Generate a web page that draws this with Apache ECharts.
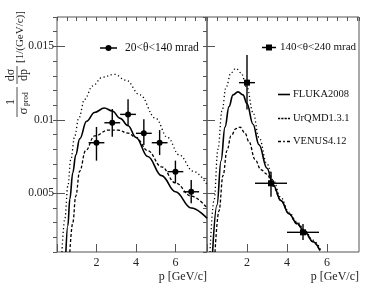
<!DOCTYPE html>
<html><head><meta charset="utf-8">
<script src="https://cdn.jsdelivr.net/npm/echarts@6/dist/echarts.min.js"></script>
<style>html,body{margin:0;padding:0;background:#fff}#c{width:374px;height:286px}</style>
</head><body><div id="c"></div>
<script>
// ---- data: left panel (20<theta<140 mrad) ----
const leftP     = [2.0, 2.8, 3.6, 4.4, 5.2, 6.0, 6.8];
const leftPLow  = [1.6, 2.4, 3.2, 4.0, 4.8, 5.6, 6.4];
const leftPHigh = [2.4, 3.2, 4.0, 4.8, 5.6, 6.4, 7.2];
const leftY     = [0.00844, 0.0098, 0.01037, 0.00908, 0.00844, 0.00647, 0.0051];
const leftYLow  = [0.00722, 0.00884, 0.00958, 0.00828, 0.0076, 0.00568, 0.00432];
const leftYHigh = [0.00951, 0.01073, 0.0114, 0.01003, 0.0093, 0.00722, 0.0059];
// ---- data: right panel (140<theta<240 mrad) ----
const rightP     = [2.0, 3.2, 4.8];
const rightPLow  = [1.6, 2.4, 4.0];
const rightPHigh = [2.4, 4.0, 5.6];
const rightY     = [0.01253, 0.00568, 0.00234];
const rightYLow  = [0.0107, 0.00476, 0.00182];
const rightYHigh = [0.01441, 0.00647, 0.00291];
// ---- model curves ----
const flukaLeftP = [0.45, 0.55, 0.65, 0.8, 0.95, 1.15, 1.5, 1.9, 2.4, 2.8, 3.2, 3.6, 4.0, 4.6, 5.3, 6.0, 6.8, 7.6];
const flukaLeftY = [0.001, 0.0028, 0.0046, 0.0064, 0.0076, 0.0087, 0.0099, 0.0105, 0.0108, 0.0106, 0.0101, 0.0096, 0.0088, 0.0075, 0.0062, 0.0051, 0.0040, 0.0033];
const urqmdLeftP = [0.65, 0.8, 0.95, 1.15, 1.45, 1.9, 2.6, 3.1, 3.6, 4.0, 4.6, 5.3, 6.0, 6.8, 7.6];
const urqmdLeftY = [0.001, 0.003, 0.0048, 0.0065, 0.0079, 0.0089, 0.0093, 0.0093, 0.0091, 0.0088, 0.0079, 0.0068, 0.0057, 0.0048, 0.0040];
const venusLeftP = [0.25, 0.4, 0.55, 0.7, 0.9, 1.1, 1.4, 1.8, 2.3, 2.9, 3.5, 4.2, 5.0, 5.6, 6.2, 6.9, 7.6];
const venusLeftY = [0.001, 0.0033, 0.0055, 0.0073, 0.0089, 0.0101, 0.0114, 0.0123, 0.0129, 0.0131, 0.0127, 0.0117, 0.0101, 0.0088, 0.0076, 0.0065, 0.0056];
const flukaRightP = [0.28, 0.5, 0.7, 0.9, 1.1, 1.3, 1.55, 1.8, 2.0, 2.3, 2.6, 3.0, 3.3, 3.7, 4.1, 4.5, 4.9, 5.3, 5.65];
const flukaRightY = [0.001, 0.0042, 0.0072, 0.0095, 0.0109, 0.0117, 0.0119, 0.0117, 0.0111, 0.0097, 0.0083, 0.0067, 0.0056, 0.0045, 0.0036, 0.00295, 0.00235, 0.0017, 0.0011];
const urqmdRightP = [0.4, 0.6, 0.8, 1.0, 1.2, 1.45, 1.65, 1.9, 2.1, 2.4, 2.7, 3.0, 3.3, 3.7, 4.1, 4.5, 4.9, 5.3, 5.6];
const urqmdRightY = [0.001, 0.0038, 0.0062, 0.0079, 0.0089, 0.0094, 0.0095, 0.0091, 0.0085, 0.0073, 0.0066, 0.0063, 0.0055, 0.0045, 0.0036, 0.0029, 0.0023, 0.0017, 0.0012];
const venusRightP = [0.15, 0.35, 0.55, 0.75, 0.95, 1.2, 1.45, 1.7, 2.0, 2.3, 2.6, 3.0, 3.3, 3.7, 4.1, 4.5, 4.9, 5.3, 5.7];
const venusRightY = [0.001, 0.0045, 0.0080, 0.0106, 0.0122, 0.0132, 0.0135, 0.0132, 0.0122, 0.0105, 0.0088, 0.0070, 0.0059, 0.0047, 0.0037, 0.00305, 0.00245, 0.0018, 0.0011];
// ---- tick labels ----
const yTickValues = [0.005, 0.01, 0.015];
const xTickLabels = ['2', '4', '6'];
const leftLabel = '20<θ<140 mrad';
const rightLabel = '140<θ<240 mrad';
const modelNames = ['FLUKA2008', 'UrQMD1.3.1', 'VENUS4.12'];

const FONT = 'Liberation Serif';
const AX = '#555';
const zip = (a, b) => a.map((v, i) => [v, b[i]]);
const errData = (p, pl, ph, y, yl, yh) => p.map((v, i) => [v, y[i], pl[i], ph[i], yl[i], yh[i]]);

function errRender(params, api) {
  const x = api.value(0), y = api.value(1);
  const a = api.coord([api.value(2), y]), b = api.coord([api.value(3), y]);
  const c = api.coord([x, api.value(4)]), d = api.coord([x, api.value(5)]);
  const st = {stroke: '#000', lineWidth: 1.4};
  return {type: 'group', children: [
    {type: 'line', shape: {x1: a[0], y1: a[1], x2: b[0], y2: b[1]}, style: st},
    {type: 'line', shape: {x1: c[0], y1: c[1], x2: d[0], y2: d[1]}, style: st}
  ]};
}

function xMajor(gi) {
  return {gridIndex: gi, type: 'value', min: 0, max: 7.6, interval: 2,
    axisLine: {show: false}, splitLine: {show: false},
    axisTick: {inside: true, length: 8, lineStyle: {color: AX}},
    axisLabel: {margin: 5, fontFamily: FONT, fontSize: 12, color: '#222', showMaxLabel: false,
      formatter: v => { const i = [2, 4, 6].indexOf(v); return i >= 0 ? xTickLabels[i] : ''; }},
    name: 'p [GeV/c]', nameLocation: 'end', nameGap: 0,
    nameTextStyle: {fontFamily: FONT, fontSize: 12, color: '#222', align: 'right', verticalAlign: 'top', padding: [19, 0, 0, 0]}
  };
}
function xMinor(gi) {
  return {gridIndex: gi, type: 'value', min: 0, max: 7.6, interval: 0.5,
    axisLine: {show: false}, splitLine: {show: false}, axisLabel: {show: false},
    axisTick: {inside: true, length: 4, lineStyle: {color: AX}}};
}
function yMajor(gi, labels) {
  return {gridIndex: gi, type: 'value', min: 0.001, max: 0.017, interval: 0.001,
    axisLine: {show: false}, splitLine: {show: false},
    axisTick: {inside: true, length: 8, customValues: yTickValues, lineStyle: {color: AX}},
    axisLabel: {show: labels, customValues: yTickValues, margin: 3, fontFamily: FONT, fontSize: 11.5, color: '#222',
      formatter: v => String(+v.toFixed(3))}};
}
function yMinor(gi) {
  return {gridIndex: gi, type: 'value', min: 0.001, max: 0.017, interval: 0.001,
    axisLine: {show: false}, splitLine: {show: false}, axisLabel: {show: false},
    axisTick: {inside: true, length: 4, lineStyle: {color: AX}}};
}
function curve(name, xi, yi, p, y, type) {
  return {type: 'line', name, xAxisIndex: xi, yAxisIndex: yi, data: zip(p, y),
    showSymbol: false, symbol: 'none', smooth: 0.4, smoothMonotone: 'x', z: 3,
    itemStyle: {color: '#000'},
    lineStyle: {color: '#000', width: type === 'solid' ? 1.6 : 1.3, type}};
}
const dashU = [3, 2];
const dashV = [1.2, 2.6];

const iconLeft  = 'path://M0,2.3h5.6v1.4h-5.6zM11.4,2.3h5.6v1.4h-5.6zM8.5,0a3,3 0 1,1 -0.01,0z';
const iconRight = 'path://M0,2.3h4v1.4h-4zM10,2.3h4v1.4h-4zM4,0h6v6h-6z';
const iconFluka = 'path://M0,0h12v1.6h-12z';
const iconUrqmd = 'path://M0,0h2.2v1.3h-2.2zM3.3,0h2.2v1.3h-2.2zM6.6,0h2.2v1.3h-2.2zM9.9,0h2.1v1.3h-2.1z';
const iconVenus = 'path://M0,0h3v1.3h-3zM5.2,0h1.6v1.3h-1.6zM9,0h3v1.3h-3z';
const legTxt = {fontFamily: FONT, fontSize: 11, color: '#111'};
const modelLegend = (name, icon, top) => ({data: [{name, icon}], left: 278, top, itemWidth: 12, itemHeight: 2,
  padding: 0, textStyle: Object.assign({padding: [0, 0, 0, -2]}, legTxt, {fontSize: 10.5})});

const chart = echarts.init(document.getElementById('c'), null, {renderer: 'canvas'});
chart.setOption({
  animation: false,
  backgroundColor: '#fff',
  grid: [
    {left: 57, right: 167, top: 17, bottom: 34, show: true, borderColor: AX, borderWidth: 1, backgroundColor: 'transparent'},
    {left: 207, right: 15, top: 17, bottom: 34, show: true, borderColor: AX, borderWidth: 1, backgroundColor: 'transparent'}
  ],
  xAxis: [xMajor(0), xMinor(0), xMajor(1), xMinor(1)],
  yAxis: [yMajor(0, true), yMinor(0), yMajor(1, false), yMinor(1)],
  legend: [
    {data: [{name: leftLabel, icon: iconLeft}], left: 100, top: 42, itemWidth: 17, itemHeight: 6, padding: 0,
     textStyle: Object.assign({padding: [0, 0, 0, 3]}, legTxt, {fontSize: 11.5})},
    {data: [{name: rightLabel, icon: iconRight}], left: 262, top: 42, itemWidth: 14, itemHeight: 6, padding: 0,
     textStyle: Object.assign({padding: [0, 0, 0, -1]}, legTxt)},
    modelLegend(modelNames[0], iconFluka, 89),
    modelLegend(modelNames[1], iconUrqmd, 113),
    modelLegend(modelNames[2], iconVenus, 136)
  ],
  graphic: [{
    type: 'group', x: 17, y: 120, rotation: Math.PI / 2, silent: true,
    children: [
      {type: 'line', shape: {x1: 3, y1: 0, x2: 33, y2: 0}, style: {stroke: '#222', lineWidth: 0.8}},
      {type: 'text', x: 18, y: -6.5, style: {text: '1', font: '12px ' + FONT, fill: '#222', align: 'center', verticalAlign: 'middle'}},
      {type: 'text', x: 9, y: 6.5, style: {text: 'σ', font: '13px ' + FONT, fill: '#222', align: 'center', verticalAlign: 'middle'}},
      {type: 'text', x: 14, y: 9, style: {text: 'prod', font: '7.5px ' + FONT, fill: '#222', align: 'left', verticalAlign: 'middle'}},
      {type: 'line', shape: {x1: 36, y1: 0, x2: 54, y2: 0}, style: {stroke: '#222', lineWidth: 0.8}},
      {type: 'text', x: 45, y: -6.5, style: {text: 'dσ', font: '12px ' + FONT, fill: '#222', align: 'center', verticalAlign: 'middle'}},
      {type: 'text', x: 45, y: 6.5, style: {text: 'dp', font: '12px ' + FONT, fill: '#222', align: 'center', verticalAlign: 'middle'}},
      {type: 'text', x: 57, y: 3, style: {text: '[1/(GeV/c)]', font: '11px ' + FONT, fill: '#222', align: 'left', verticalAlign: 'middle'}}
    ]
  }],
  series: [
    curve(modelNames[0], 0, 0, flukaLeftP, flukaLeftY, 'solid'),
    curve(modelNames[1], 0, 0, urqmdLeftP, urqmdLeftY, dashU),
    curve(modelNames[2], 0, 0, venusLeftP, venusLeftY, dashV),
    curve(modelNames[0], 2, 2, flukaRightP, flukaRightY, 'solid'),
    curve(modelNames[1], 2, 2, urqmdRightP, urqmdRightY, dashU),
    curve(modelNames[2], 2, 2, venusRightP, venusRightY, dashV),
    {type: 'custom', xAxisIndex: 0, yAxisIndex: 0, renderItem: errRender, z: 4,
     data: errData(leftP, leftPLow, leftPHigh, leftY, leftYLow, leftYHigh), encode: {x: [0, 2, 3], y: [1, 4, 5]}},
    {type: 'custom', xAxisIndex: 2, yAxisIndex: 2, renderItem: errRender, z: 4,
     data: errData(rightP, rightPLow, rightPHigh, rightY, rightYLow, rightYHigh), encode: {x: [0, 2, 3], y: [1, 4, 5]}},
    {type: 'line', name: leftLabel, xAxisIndex: 0, yAxisIndex: 0, data: zip(leftP, leftY), z: 5,
     symbol: 'circle', symbolSize: 6, itemStyle: {color: '#000'}, lineStyle: {opacity: 0, width: 1.5, color: '#000'}},
    {type: 'line', name: rightLabel, xAxisIndex: 2, yAxisIndex: 2, data: zip(rightP, rightY), z: 5,
     symbol: 'rect', symbolSize: 6, itemStyle: {color: '#000'}, lineStyle: {opacity: 0, width: 1.5, color: '#000'}}
  ]
});
</script></body></html>
